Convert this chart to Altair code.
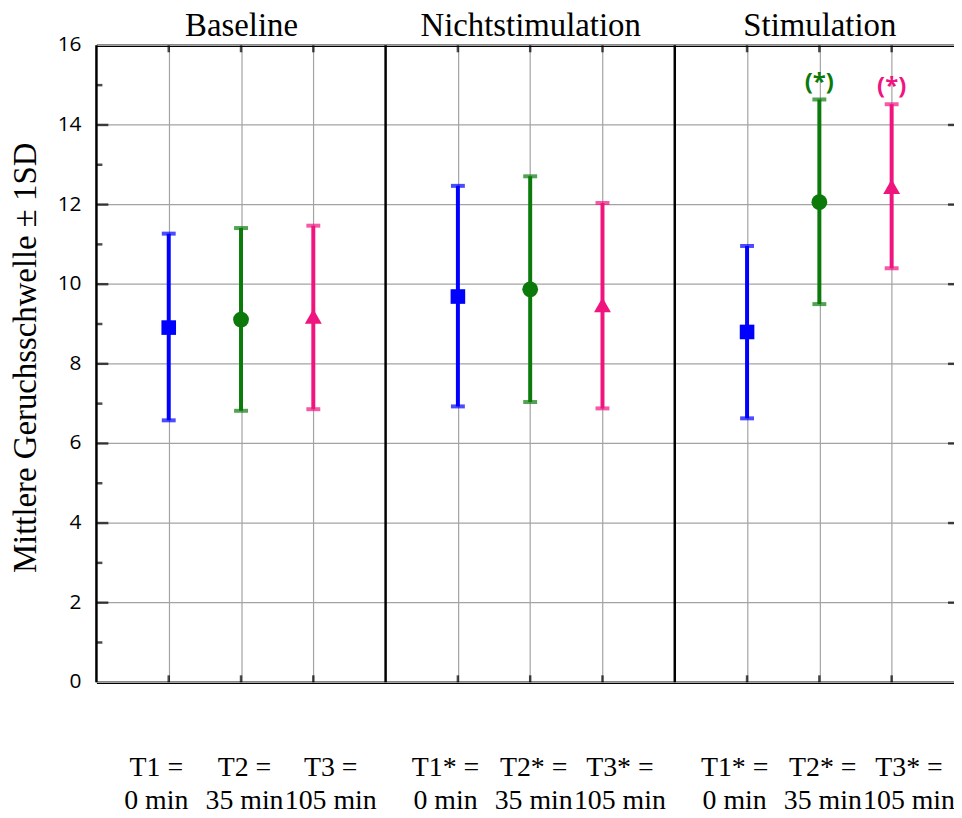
import altair as alt
import pandas as pd

# ---- data ----
conditions = ["Baseline", "Nichtstimulation", "Stimulation"]
times = ["T1", "T2", "T3"]
label_line1 = ["T1 =", "T2 =", "T3 =", "T1* =", "T2* =", "T3* =", "T1* =", "T2* =", "T3* ="]
label_line2 = ["0 min", "35 min", "105 min", "0 min", "35 min", "105 min", "0 min", "35 min", "105 min"]
means = [8.91, 9.11, 9.19, 9.69, 9.87, 9.48, 8.80, 12.06, 12.45]
upper = [11.27, 11.41, 11.47, 12.47, 12.71, 12.04, 10.96, 14.64, 14.52]
lower = [6.58, 6.82, 6.86, 6.93, 7.04, 6.88, 6.63, 9.50, 10.40]
signif = ["", "", "", "", "", "", "", "(*)", "(*)"]
y_title = "Mittlere Geruchsschwelle ± 1SD"
y_major = [0, 2, 4, 6, 8, 10, 12, 14, 16]
y_minor = [1, 3, 5, 7, 9, 11, 13, 15]
colors = ["#0000FF", "#0B7A0B", "#F0147F"]
shapes = ["square", "circle", "triangle-up"]

slots = len(times) + 1
rows = []
for ci, cond in enumerate(conditions):
    for ti, t in enumerate(times):
        k = ci * len(times) + ti
        rows.append({
            "cond": cond, "time": t, "pos": ci * slots + ti + 1,
            "mean": means[k], "upper": upper[k], "lower": lower[k], "sig": signif[k],
        })
df = pd.DataFrame(rows)
positions = list(df["pos"])
centers = [ci * slots + (len(times) + 1) / 2 for ci in range(len(conditions))]
dividers = pd.DataFrame({"b": [ci * slots for ci in range(len(conditions))]})
ygrid = pd.DataFrame({"y": y_major})
ymaj = pd.DataFrame({"y": y_major[1:-1]})
ymin = pd.DataFrame({"y": y_minor})
posdf = pd.DataFrame({"pos": positions})
titledf = pd.DataFrame({"t": [y_title]})

W, H = 863, 641
PX_PER_SLOT = 72.75
XVIEW = W / PX_PER_SLOT          # the reference is cut off just before its right frame
YMID = (y_major[0] + y_major[-1]) / 2
GRID = "#a3a3a3"
SERIF = "Liberation Serif"

xs = alt.Scale(domain=[0, XVIEW], nice=False, zero=False)
ys = alt.Scale(domain=[y_major[0], y_major[-1]], nice=False, zero=False)
col = alt.Color("time:N", scale=alt.Scale(domain=times, range=colors), legend=None)

bottom_expr = " : ".join(
    f"datum.value == {p} ? ['{a}', '{b}']" for p, a, b in zip(positions, label_line1, label_line2)
) + " : ''"
top_expr = " : ".join(
    f"datum.value == {c} ? '{n}'" for c, n in zip(centers, conditions)
) + " : ''"

bottom_axis = alt.Axis(
    orient="bottom", values=positions, labelExpr=bottom_expr, grid=True,
    gridColor=GRID, gridWidth=1.2, ticks=False, domainColor="black", domainWidth=2.5,
    labelFont=SERIF, labelFontSize=28, labelColor="black", labelPadding=72,
    labelLineHeight=33, labelOverlap=False, labelBound=False, labelFlush=False,
    labelAlign="center", labelLimit=0, title=None,
    labelOffset={
        "condition": [
            {"test": f"datum.value % {slots} == 1", "value": -13},
            {"test": f"datum.value % {slots} == 3", "value": 17},
        ],
        "value": 3,
    },
)
top_axis = alt.Axis(
    orient="top", values=centers, labelExpr=top_expr, grid=False, ticks=False,
    domainColor="black", domainWidth=2.5, labelFont=SERIF, labelFontSize=33,
    labelColor="black", labelPadding=10, labelBaseline="alphabetic", labelLimit=0,
    labelOverlap=False, labelBound=False, labelFlush=False, title=None,
)

# horizontal grid lines
hgrid = alt.Chart(ygrid).mark_rule(color=GRID, strokeWidth=1.2).encode(
    y=alt.Y("y:Q", scale=ys, axis=None),
    x=alt.XDatum(0, scale=xs, axis=None),
    x2=alt.X2Datum(XVIEW),
)
# y tick labels and title (drawn as text at the y scale)
ylabels = alt.Chart(ygrid).mark_text(
    align="right", baseline="middle", dx=-15, font="Open Sans", fontSize=21, color="black"
).encode(
    x=alt.XDatum(0, scale=xs, axis=None),
    y=alt.Y("y:Q", scale=ys, axis=None),
    text=alt.Text("y:Q", format="d"),
)
ytitle = alt.Chart(titledf).mark_text(
    angle=270, align="center", baseline="alphabetic", dy=-61, dx=6,
    font=SERIF, fontSize=33, color="black",
).encode(
    x=alt.XDatum(0, scale=xs, axis=None),
    y=alt.YDatum(YMID, scale=ys, axis=None),
    text="t:N",
)

base = alt.Chart(df)

bars = base.mark_rule(strokeWidth=4).encode(
    x=alt.X("pos:Q", scale=xs, axis=bottom_axis),
    y=alt.Y("lower:Q", scale=ys, axis=None),
    y2="upper:Q",
    color=col,
)
cap_hi = base.mark_tick(orient="horizontal", size=14, thickness=4).encode(
    x=alt.X("pos:Q", scale=xs, axis=None),
    y=alt.Y("upper:Q", scale=ys, axis=None),
    color=col,
)
cap_lo = base.mark_tick(orient="horizontal", size=14, thickness=4).encode(
    x=alt.X("pos:Q", scale=xs, axis=None),
    y=alt.Y("lower:Q", scale=ys, axis=None),
    color=col,
)
points = base.mark_point(filled=True, opacity=1, stroke="white", strokeJoin="round").encode(
    x=alt.X("pos:Q", scale=xs, axis=None),
    y=alt.Y("mean:Q", scale=ys, axis=None),
    color=col,
    shape=alt.Shape("time:N", scale=alt.Scale(domain=times, range=shapes), legend=None),
    size=alt.Size("time:O", scale=alt.Scale(domain=times, range=[216, 289, 340]), legend=None),
    strokeWidth=alt.StrokeWidth("time:O", scale=alt.Scale(domain=times, range=[0, 0, 3.5]), legend=None),
)
stars = base.transform_filter("datum.sig != ''").mark_text(
    dy=-17, fontSize=24, fontWeight="bold", font="Open Sans", baseline="middle"
).encode(
    x=alt.X("pos:Q", scale=xs, axis=None),
    y=alt.Y("upper:Q", scale=ys, axis=None),
    text="sig:N",
    color=col,
)
divs = alt.Chart(dividers).mark_rule(color="black", strokeWidth=2.5).encode(
    x=alt.X("b:Q", scale=xs, axis=None),
    y=alt.YDatum(y_major[0], scale=ys, axis=None),
    y2=alt.Y2Datum(y_major[-1]),
)
left_major = alt.Chart(ymaj).mark_tick(orient="horizontal", size=12, thickness=2.5, xOffset=6, color="black").encode(
    x=alt.XDatum(0, scale=xs, axis=None),
    y=alt.Y("y:Q", scale=ys, axis=None),
)
left_minor = alt.Chart(ymin).mark_tick(orient="horizontal", size=6, thickness=2.5, xOffset=3, color="black").encode(
    x=alt.XDatum(0, scale=xs, axis=None),
    y=alt.Y("y:Q", scale=ys, axis=None),
)
right_major = alt.Chart(ymaj).mark_tick(orient="horizontal", size=6, thickness=2.5, xOffset=-3, color="black").encode(
    x=alt.XDatum(XVIEW, scale=xs, axis=None),
    y=alt.Y("y:Q", scale=ys, axis=None),
)
top_ticks = alt.Chart(posdf).mark_tick(orient="vertical", size=7, thickness=2.5, yOffset=3.5, color="black").encode(
    x=alt.X("pos:Q", scale=xs, axis=top_axis),
    y=alt.YDatum(y_major[-1], scale=ys, axis=None),
)
bottom_ticks = alt.Chart(posdf).mark_tick(orient="vertical", size=7, thickness=2.5, yOffset=-3.5, color="black").encode(
    x=alt.X("pos:Q", scale=xs, axis=None),
    y=alt.YDatum(y_major[0], scale=ys, axis=None),
)

chart = alt.layer(
    hgrid, bars, cap_hi, cap_lo, points, stars, divs, ylabels, ytitle,
    left_major, left_minor, right_major, top_ticks, bottom_ticks,
).properties(
    width=W, height=H,
    autosize=alt.AutoSizeParams(type="none"),
    padding={"left": 89, "top": 35, "right": 0, "bottom": 134},
    background="white",
).configure_view(stroke=None)

chart.save("out.html", embed_options={"renderer": "svg", "actions": False})
